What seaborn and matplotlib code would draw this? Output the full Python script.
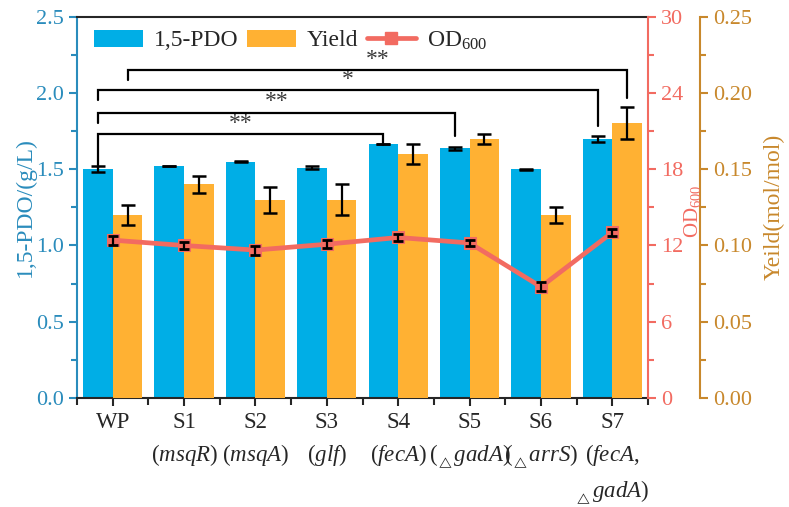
import numpy as np
import pandas as pd
import matplotlib.pyplot as plt
import seaborn as sns
from matplotlib.patches import Patch
from matplotlib.lines import Line2D
from matplotlib.ticker import MultipleLocator

# data
strains = ['WP', 'S1', 'S2', 'S3', 'S4', 'S5', 'S6', 'S7']
genes = ['', r'$(\mathit{msqR})$', r'$(\mathit{msqA})$', r'$(\mathit{glf})$',
         r'$(\mathit{fecA})$', r'$({}_{{}_{\triangle}}\mathit{gadA})$',
         r'$({}_{{}_{\triangle}}\mathit{arrS})$',
         '$(\\mathit{fecA},$\n${}_{{}_{\\triangle}}\\mathit{gadA})$']
pdo = [1.50, 1.52, 1.55, 1.51, 1.665, 1.637, 1.50, 1.70]
pdo_err = [0.02, 0.002, 0.002, 0.01, 0.002, 0.01, 0.002, 0.02]
yld = [0.12, 0.14, 0.13, 0.13, 0.16, 0.17, 0.12, 0.18]
yld_err = [0.0065, 0.0053, 0.0085, 0.010, 0.0068, 0.0034, 0.0052, 0.0105]
od = [12.42, 12.0, 11.64, 12.1, 12.63, 12.2, 8.75, 13.03]
od_err = [0.35, 0.25, 0.35, 0.3, 0.3, 0.25, 0.35, 0.25]

# significance brackets (left axis units)
br_left = [('PDO', 0), ('PDO', 0), ('PDO', 0), ('Yield', 0)]
br_right = [('PDO', 4), ('PDO', 5), ('PDO', 7), ('Yield', 7)]
br_top = [1.730, 1.868, 2.018, 2.149]
br_left_end = [1.507, 1.802, 1.953, 2.084]
br_right_end = [1.658, 1.717, 1.782, 1.966]
br_label = ['**', '**', '*', '**']

c_blue = '#00AEE6'
c_orange = '#FFB133'
c_red = '#F26B61'
c_tan = '#C8882C'
c_left = '#2A8CBC'

sns.set_style('ticks')
plt.rcParams['font.family'] = ['Liberation Serif', 'DejaVu Serif']
plt.rcParams['mathtext.fontset'] = 'custom'
plt.rcParams['mathtext.rm'] = 'Liberation Serif'
plt.rcParams['mathtext.it'] = 'Liberation Serif:italic'

labels = [s + ('\n' + g if g else '') for s, g in zip(strains, genes)]
df_pdo = pd.DataFrame({'strain': labels, 'value': pdo, 'series': '1,5-PDO'})
df_yld = pd.DataFrame({'strain': labels, 'value': yld, 'series': 'Yield'})
hue_order = ['1,5-PDO', 'Yield']

fig = plt.figure(figsize=(7.89, 5.07), dpi=100)
ax = fig.add_axes([0.0976, 0.215, 0.7237, 0.752])
ax_y = ax.twinx()
ax_od = ax.twinx()

sns.barplot(data=df_pdo, x='strain', y='value', hue='series', hue_order=hue_order,
            palette=[c_blue, c_orange], width=0.83, dodge=True, errorbar=None,
            legend=False, saturation=1, linewidth=0, ax=ax)
sns.barplot(data=df_yld, x='strain', y='value', hue='series', hue_order=hue_order,
            palette=[c_blue, c_orange], width=0.83, dodge=True, errorbar=None,
            legend=False, saturation=1, linewidth=0, ax=ax_y)

blue_x = [p.get_x() + p.get_width() / 2 for p in ax.patches if p.get_height() > 0][:8]
orange_x = [p.get_x() + p.get_width() / 2 for p in ax_y.patches if p.get_height() > 0][:8]
ax.errorbar(blue_x, pdo, yerr=pdo_err, fmt='none', ecolor='black', elinewidth=1.6,
            capsize=5, capthick=1.8, zorder=5)
ax_y.errorbar(orange_x, yld, yerr=yld_err, fmt='none', ecolor='black', elinewidth=1.6,
              capsize=5, capthick=1.8, zorder=5)

sns.lineplot(x=labels, y=od, color=c_red, lw=3.4, marker='s', markersize=8.5,
             markeredgecolor=c_red, ax=ax_od, sort=False)
line = ax_od.lines[0]
ax_od.errorbar(line.get_xdata(), od, yerr=od_err, fmt='none', ecolor='black',
               elinewidth=1.6, capsize=3.5, capthick=2, zorder=6)

# axes limits / ticks
ax.set_xlim(-0.5, 7.5)
ax.set_ylim(0, 2.5)
ax_y.set_ylim(0, 0.25)
ax_od.set_ylim(0, 30)
ax.set_xticks(range(len(labels)))
ax.set_xticklabels(labels, fontsize=16.5, linespacing=1.5)
ax.xaxis.set_minor_locator(plt.FixedLocator(np.arange(-0.5, 7.6, 1)))
ax.tick_params(axis='x', which='major', length=6, width=1.5, direction='out', pad=4)
ax.tick_params(axis='x', which='minor', length=5, width=1.5, direction='out')

ax.yaxis.set_major_locator(MultipleLocator(0.5))
ax.yaxis.set_minor_locator(MultipleLocator(0.25))
ax.yaxis.set_major_formatter(plt.FormatStrFormatter('%.1f'))
ax.tick_params(axis='y', which='both', colors=c_left, labelsize=16, width=1.5)
ax.tick_params(axis='y', which='major', length=6)
ax.tick_params(axis='y', which='minor', length=4)

ax_od.yaxis.set_major_locator(MultipleLocator(6))
ax_od.yaxis.set_minor_locator(MultipleLocator(3))
ax_od.tick_params(axis='y', which='both', colors=c_red, labelsize=16, width=1.5)
ax_od.tick_params(axis='y', which='major', length=6)
ax_od.tick_params(axis='y', which='minor', length=4)

ax_y.spines['right'].set_position(('axes', 1.091))
ax_y.yaxis.set_major_locator(MultipleLocator(0.05))
ax_y.yaxis.set_minor_locator(MultipleLocator(0.025))
ax_y.yaxis.set_major_formatter(plt.FormatStrFormatter('%.2f'))
ax_y.tick_params(axis='y', which='both', colors=c_tan, labelsize=16, width=1.5)
ax_y.tick_params(axis='y', which='major', length=6)
ax_y.tick_params(axis='y', which='minor', length=4)

for a in (ax, ax_y, ax_od):
    a.set_xlabel('')
    for s in a.spines.values():
        s.set_linewidth(1.5)
ax.spines['left'].set_color(c_left)
ax.spines['right'].set_visible(False)
for a in (ax_y, ax_od):
    a.spines['top'].set_visible(False)
    a.spines['left'].set_visible(False)
    a.spines['bottom'].set_visible(False)
ax_od.spines['right'].set_color(c_red)
ax_y.spines['right'].set_color(c_tan)

ax.set_ylabel('1,5-PDO/(g/L)', color=c_left, fontsize=17)
ax.yaxis.set_label_coords(-0.072, 0.5)
ax_od.set_ylabel('OD$_{600}$', color=c_red, fontsize=15)
ax_od.yaxis.set_label_coords(1.06, 0.49)
ax_y.set_ylabel('Yeild(mol/mol)', color=c_tan, fontsize=17)
ax_y.yaxis.set_label_coords(1.203, 0.5)

# significance brackets
centers = {'PDO': blue_x, 'Yield': orange_x}
for (ls, li), (rs, ri), top, le, re, lab in zip(br_left, br_right, br_top,
                                                 br_left_end, br_right_end, br_label):
    x0 = centers[ls][li]
    x1 = centers[rs][ri]
    ax_od.plot([x0, x0, x1, x1], [le * 12, top * 12, top * 12, re * 12],
               color='black', lw=1.6, solid_joinstyle='miter', zorder=7)
    ax_od.text((x0 + x1) / 2, top * 12 + 0.05, lab, ha='center', va='bottom',
               fontsize=17, color='#3a3a3a')

handles = [Patch(facecolor=c_blue, edgecolor='none', label='1,5-PDO'),
           Patch(facecolor=c_orange, edgecolor='none', label='Yield'),
           Line2D([], [], color=c_red, lw=3.4, marker='s', markersize=8.5,
                  label='OD$_{600}$')]
ax_od.legend(handles=handles, loc='upper left', bbox_to_anchor=(0.0, 1.01), ncol=3,
             frameon=False, fontsize=17, handlelength=2.1, handleheight=0.75,
             handletextpad=0.45, columnspacing=0.35, borderaxespad=0.3)

fig.savefig('out.png', dpi=100)
